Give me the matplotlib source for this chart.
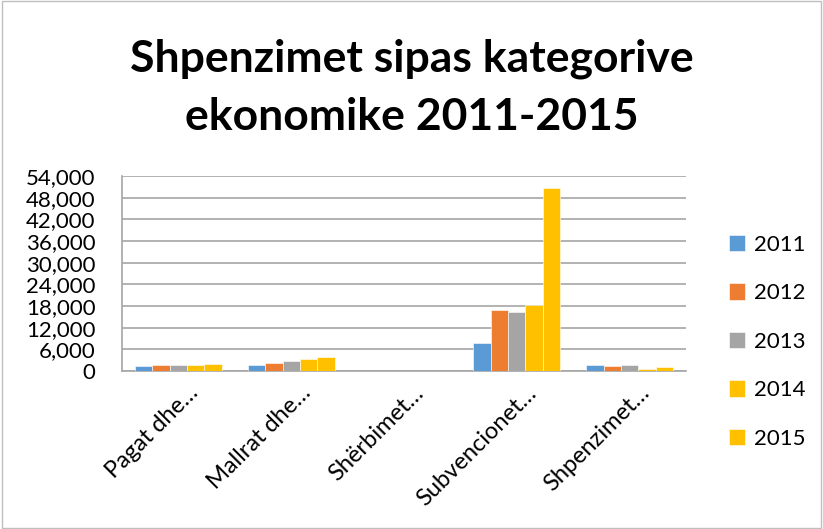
import numpy as np
import matplotlib.pyplot as plt
import matplotlib.transforms as mtransforms
from matplotlib.patches import Rectangle

# categories and yearly values
categories = ['Pagat dhe…', 'Mallrat dhe…', 'Shërbimet…', 'Subvencionet…', 'Shpenzimet…']
years = ['2011', '2012', '2013', '2014', '2015']
v2011 = [1400, 1550, 0, 7700, 1650]
v2012 = [1550, 2300, 0, 16800, 1300]
v2013 = [1550, 2650, 0, 16300, 1650]
v2014 = [1750, 3200, 0, 18200, 650]
v2015 = [1950, 3750, 0, 50600, 1000]
values = [v2011, v2012, v2013, v2014, v2015]
colors = ['#5B9BD5', '#ED7D31', '#A5A5A5', '#FFC000', '#FFC000']
yticks = [0, 6000, 12000, 18000, 24000, 30000, 36000, 42000, 48000, 54000]

plt.rcParams['font.family'] = ['Lato', 'DejaVu Sans']

fig = plt.figure(figsize=(8.23, 5.29), dpi=100)
ax = fig.add_axes([122 / 823, 1 - 371 / 529, 564 / 823, 195 / 529])

x = np.arange(len(categories))
w = 1 / 6.5
for i, (vals, col, yr) in enumerate(zip(values, colors, years)):
    ax.bar(x + (i - 2) * w, vals, width=w, color=col, label=yr,
           edgecolor='white', linewidth=0.4, zorder=3)

ax.set_xlim(-0.5, 4.5)
ax.set_ylim(0, 54000)
ax.set_yticks(yticks)
ax.set_yticklabels([f'{t:,}' for t in yticks], fontsize=16)
ax.yaxis.grid(True, color='#A6A6A6', linewidth=1.2, zorder=0)
ax.tick_params(axis='y', length=0, pad=19)
ax.tick_params(axis='x', length=0, pad=8)
ax.set_xticks(x)
ax.set_xticklabels(categories, rotation=45, ha='right', rotation_mode='anchor',
                   fontsize=17)
shift = mtransforms.ScaledTranslation(9 / 100, 0, fig.dpi_scale_trans)
for lbl in ax.get_xticklabels():
    lbl.set_transform(lbl.get_transform() + shift)
for s in ['top', 'right']:
    ax.spines[s].set_visible(False)
for s in ['left', 'bottom']:
    ax.spines[s].set_color('#A6A6A6')
    ax.spines[s].set_linewidth(1.2)

fig.text(0.5, 1 - 88 / 529, 'Shpenzimet sipas kategorive\nekonomike 2011-2015',
         ha='center', va='center', fontsize=32, fontweight='bold',
         linespacing=1.55)

ax.legend(loc='center left', bbox_to_anchor=(1.04, 0.15), frameon=False,
          fontsize=16, handlelength=0.75, handleheight=0.75, handletextpad=0.4,
          labelspacing=1.28)

fig.patches.append(Rectangle((0.002, 0.002), 0.996, 0.996, transform=fig.transFigure,
                             fill=False, edgecolor='#BFBFBF', linewidth=1))

plt.savefig('out.png', dpi=100)
